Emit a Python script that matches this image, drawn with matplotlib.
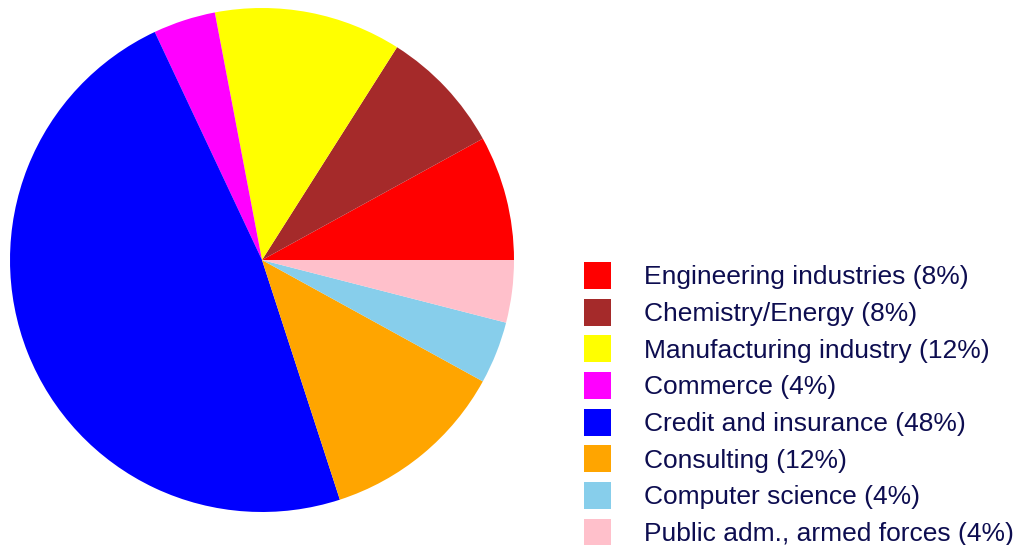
import matplotlib.pyplot as plt
from matplotlib.patches import Patch

plt.rcParams['font.family'] = ['Liberation Sans', 'DejaVu Sans']

sectors = ['Engineering industries', 'Chemistry/Energy', 'Manufacturing industry',
           'Commerce', 'Credit and insurance', 'Consulting', 'Computer science',
           'Public adm., armed forces']
shares = [8, 8, 12, 4, 48, 12, 4, 4]
colors = ['#ff0000', '#a52a2a', '#ffff00', '#ff00ff', '#0000ff', '#ffa500',
          '#87ceeb', '#ffc0cb']
text_color = '#0d0d50'

W, H = 1016, 545
fig = plt.figure(figsize=(W / 100, H / 100), dpi=100)

# pie centre ~ (262, 260) px, radius ~252 px
cx, cy, r = 262, 260, 252
ax = fig.add_axes([(cx - r) / W, (H - cy - r) / H, 2 * r / W, 2 * r / H])
ax.pie(shares, colors=colors, startangle=0, counterclock=True, radius=1,
       wedgeprops=dict(linewidth=0))
ax.set_xlim(-1, 1)
ax.set_ylim(-1, 1)
ax.set_aspect('equal')
ax.axis('off')

handles = [Patch(facecolor=c, edgecolor='none') for c in colors]
labels = [f'{s} ({v}%)' for s, v in zip(sectors, shares)]
fig.legend(handles, labels, loc='upper left',
           bbox_to_anchor=(584 / W, 1 - 262 / H), frameon=False,
           fontsize=19, labelcolor=text_color,
           handlelength=1.03, handleheight=1.2, handletextpad=1.25,
           labelspacing=0.35, borderpad=0, borderaxespad=0)

fig.savefig('out.png', dpi=100)
